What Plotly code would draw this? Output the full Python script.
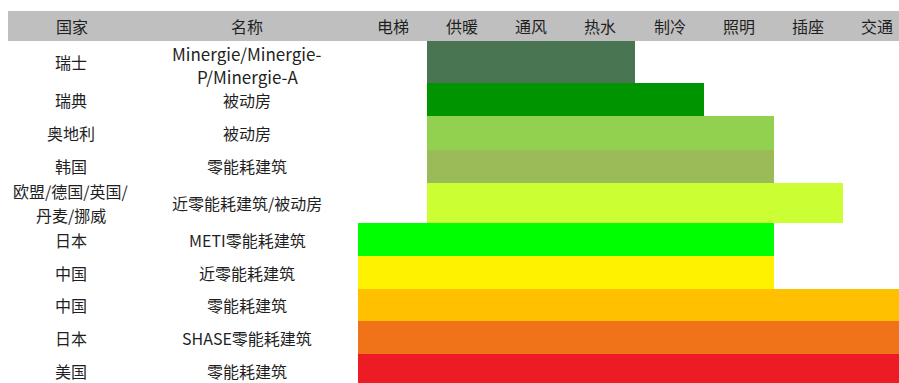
import plotly.graph_objects as go

# ---- data ----
columns = ["电梯", "供暖", "通风", "热水", "制冷", "照明", "插座", "交通"]
countries = ["瑞士", "瑞典", "奥地利", "韩国", "欧盟/德国/英国/<br>丹麦/挪威",
             "日本", "中国", "中国", "日本", "美国"]
names = ["Minergie/Minergie-<br>P/Minergie-A", "被动房", "被动房", "零能耗建筑",
         "近零能耗建筑/被动房", "METI零能耗建筑", "近零能耗建筑", "零能耗建筑",
         "SHASE零能耗建筑", "零能耗建筑"]
first_item = ["供暖", "供暖", "供暖", "供暖", "供暖", "电梯", "电梯", "电梯", "电梯", "电梯"]
last_item = ["热水", "制冷", "照明", "照明", "插座", "照明", "照明", "交通", "交通", "交通"]

# ---- styles / layout ----
bar_colors = ["#497552", "#009400", "#92D050", "#9BBB59", "#CCFF33",
              "#00FF00", "#FFF200", "#FFC000", "#F07319", "#ED1C24"]
row_heights = [42, 33, 33.5, 33.5, 40, 33, 33, 32, 33, 33]  # px
W, H = 899, 383
header_top, header_bottom = 11, 41
bars_left = 358
col_w = 69.25
font_family = "Noto Sans CJK SC, Noto Sans, sans-serif"
text_color = "#1f1f1f"
fs = 16
line_gap = 23.5  # px between wrapped lines

# row positions (in pixel units of the y axis, top = 0)
centers = []
acc = 0
for h in row_heights:
    centers.append(acc + h / 2)
    acc += h

starts = [columns.index(s) for s in first_item]
lengths = [columns.index(e) + 1 - columns.index(s) for s, e in zip(first_item, last_item)]

fig = go.Figure()
fig.add_trace(go.Bar(
    orientation="h",
    y=centers,
    x=lengths,
    base=starts,
    width=row_heights,
    marker=dict(color=bar_colors, line=dict(width=0)),
    hoverinfo="skip",
    showlegend=False,
))

visible_h = H - header_bottom
annotations = []


def add_label(text, xpx, cy, size, dy=0):
    lines = text.split("<br>")
    n = len(lines)
    for i, ln in enumerate(lines):
        y = cy + dy + (i - (n - 1) / 2) * line_gap
        annotations.append(dict(x=xpx / W, xref="paper", y=y, yref="y", text=ln,
                                showarrow=False, xanchor="center", yanchor="middle",
                                font=dict(size=size, color=text_color, family=font_family)))


# header labels
for k, c in enumerate(columns):
    annotations.append(dict(x=k + 0.5, xref="x", y=1 - 26.5 / H, yref="paper",
                            text=c, showarrow=False, xanchor="center", yanchor="middle",
                            font=dict(size=fs, color=text_color, family=font_family)))
for txt, px in [("国家", 72), ("名称", 247)]:
    annotations.append(dict(x=px / W, xref="paper", y=1 - 26.5 / H, yref="paper",
                            text=txt, showarrow=False, xanchor="center", yanchor="middle",
                            font=dict(size=fs, color=text_color, family=font_family)))
# row labels
for cy, ctry, nm in zip(centers, countries, names):
    add_label(ctry, 71, cy, fs)
    is_latin = nm.startswith("Minergie")
    add_label(nm, 247, cy, 17 if is_latin else fs, dy=(3 if is_latin else 0))

fig.update_layout(
    width=W, height=H,
    margin=dict(l=0, r=0, t=0, b=0),
    paper_bgcolor="white", plot_bgcolor="white",
    bargap=0,
    xaxis=dict(domain=[bars_left / W, 1], range=[0, (W - bars_left) / col_w],
               showgrid=False, zeroline=False, showticklabels=False, ticks="", fixedrange=True),
    yaxis=dict(domain=[0, visible_h / H], range=[visible_h, 0],
               showgrid=False, zeroline=False, showticklabels=False, ticks="", fixedrange=True),
    shapes=[dict(type="rect", xref="paper", yref="paper",
                 x0=8 / W, x1=1, y0=1 - header_bottom / H, y1=1 - header_top / H,
                 fillcolor="#BFBFBF", line=dict(width=0), layer="below")],
    annotations=annotations,
    showlegend=False,
)

fig.write_html("out.html", config={"displayModeBar": False})
